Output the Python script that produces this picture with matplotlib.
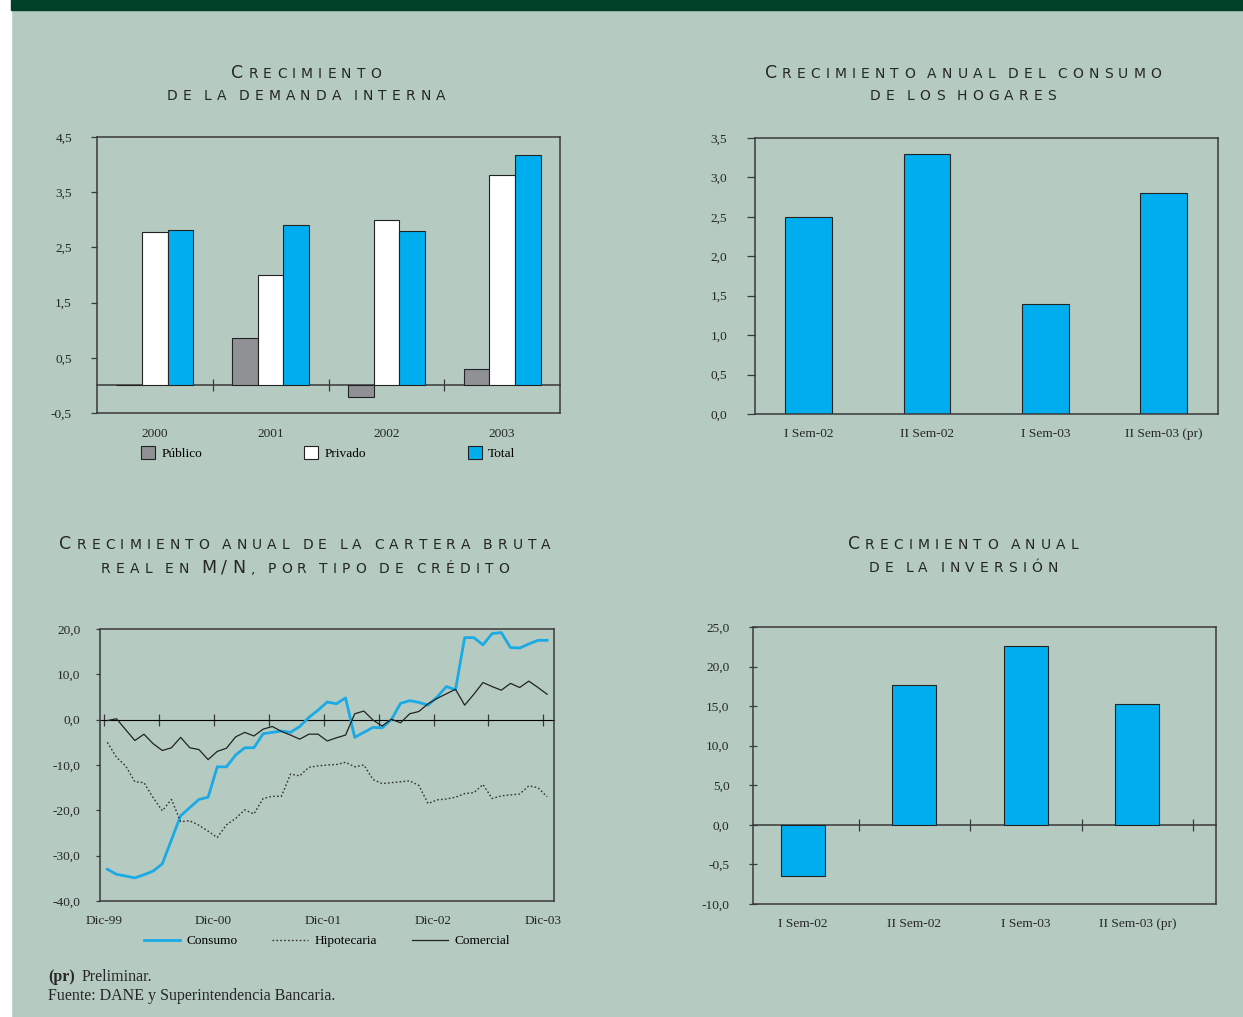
import numpy as np
import matplotlib
matplotlib.use("Agg")
import matplotlib.pyplot as plt
from matplotlib.patches import Rectangle
from matplotlib.offsetbox import TextArea, HPacker, AnchoredOffsetbox

BG = "#b5cbc1"
BAND = "#004028"
BLUE = "#00adee"
GREY = "#8f9195"
INK = "#262626"
SPINE = "#3a3a3a"
FS = 9.6

plt.rcParams["font.family"] = ["Liberation Serif", "DejaVu Serif"]
plt.rcParams["font.size"] = FS

# ── Data ───────────────────────────────────────────────────────────────────
demanda_years = ["2000", "2001", "2002", "2003"]
demanda_publico = [0.0, 0.85, -0.21, 0.30]
demanda_privado = [2.77, 2.00, 3.00, 3.82]
demanda_total = [2.82, 2.90, 2.80, 4.18]
demanda_yticks = [-0.5, 0.5, 1.5, 2.5, 3.5, 4.5]
demanda_ylabels = ["-0,5", "0,5", "1,5", "2,5", "3,5", "4,5"]

sem_labels = ["I Sem-02", "II Sem-02", "I Sem-03", "II Sem-03 (pr)"]
hogares = [2.5, 3.3, 1.4, 2.8]
hogares_yticks = [0.0, 0.5, 1.0, 1.5, 2.0, 2.5, 3.0, 3.5]
hogares_ylabels = ["0,0", "0,5", "1,0", "1,5", "2,0", "2,5", "3,0", "3,5"]

inversion = [-6.5, 17.7, 22.6, 15.25]
inversion_yticks = [-10, -5, 0, 5, 10, 15, 20, 25]
inversion_ylabels = ["-10,0", "-0,5", "0,0", "5,0", "10,0", "15,0", "20,0", "25,0"]

# monthly, Dic-99 .. Dic-03
consumo = [-33.0, -34.1, -34.5, -34.9, -34.2, -33.4, -31.8, -26.5, -21.2, -19.4,
           -17.6, -17.1, -10.4, -10.4, -7.8, -6.2, -6.2, -3.1, -2.8, -2.5,
           -2.8, -1.5, 0.5, 2.1, 3.9, 3.5, 4.8, -3.9, -2.8, -1.7,
           -1.8, 0.0, 3.6, 4.2, 3.8, 3.2, 5.0, 7.3, 6.6, 18.1,
           18.1, 16.5, 19.0, 19.2, 15.9, 15.8, 16.7, 17.5, 17.5]
hipotecaria = [-5.0, -8.3, -10.2, -13.7, -13.9, -17.2, -20.1, -17.6, -22.5, -22.3,
               -23.3, -24.6, -26.0, -23.2, -21.8, -19.9, -20.8, -17.4, -16.9, -16.9,
               -12.0, -12.4, -10.5, -10.2, -10.0, -9.9, -9.4, -10.4, -10.0, -13.2,
               -14.1, -13.9, -13.7, -13.5, -14.5, -18.5, -17.7, -17.5, -17.1, -16.3,
               -16.1, -14.3, -17.4, -16.8, -16.6, -16.4, -14.6, -15.0, -17.0]
comercial = [-0.2, 0.2, -2.2, -4.6, -3.2, -5.3, -6.8, -6.2, -3.9, -6.2,
             -6.6, -8.8, -7.0, -6.3, -3.8, -2.8, -3.6, -2.1, -1.5, -2.6,
             -3.4, -4.3, -3.2, -3.2, -4.7, -4.0, -3.4, 1.3, 1.9, -0.1,
             -1.4, 0.1, -0.7, 1.3, 1.8, 3.5, 4.7, 5.7, 6.7, 3.2,
             5.6, 8.2, 7.3, 6.5, 8.0, 7.1, 8.5, 7.1, 5.6]
cartera_ticklabels = ["Dic-99", "Dic-00", "Dic-01", "Dic-02", "Dic-03"]
cartera_yticks = [-40, -30, -20, -10, 0, 10, 20]
cartera_ylabels = ["-40,0", "-30,0", "-20,0", "-10,0", "0,0", "10,0", "20,0"]


# ── Helpers ────────────────────────────────────────────────────────────────

def px_axes(fig, left, top, right, bottom):
    W, H = 1243, 1017
    return fig.add_axes([left / W, 1 - bottom / H, (right - left) / W, (bottom - top) / H])


def style_axes(ax, ylabels_pad=13, tick_dir="out", tick_len=4):
    ax.set_facecolor("none")
    for s in ax.spines.values():
        s.set_color(SPINE)
        s.set_linewidth(1.1)
    ax.tick_params(axis="y", direction=tick_dir, length=tick_len, width=0.9,
                   color=SPINE, pad=ylabels_pad, labelsize=FS, labelcolor=INK)
    ax.tick_params(axis="x", length=0, labelsize=FS, labelcolor=INK)


def zero_axis(ax, ticks, frac):
    """Excel-style category axis through zero, with ticks crossing it."""
    sec = ax.secondary_xaxis(frac)
    sec.spines["bottom"].set_color(SPINE)
    sec.spines["bottom"].set_linewidth(1.1)
    sec.set_xticks(ticks, [""] * len(ticks))
    sec.tick_params(direction="inout", length=8, width=0.9, color=SPINE,
                    labelbottom=False, labeltop=False)
    return sec


def smallcaps(fig, x, y, text, big=12.5, small=10.0, sep=3.7, wsep=9.0):
    words = []
    for word in text.split(" "):
        if not word:
            continue
        caps_word = word.isupper()
        letters = []
        for ch in word:
            size = big if (ch.isupper() or (caps_word and ch == "/")) else small
            letters.append(TextArea(ch.upper(), textprops=dict(
                fontsize=size, color=INK, family="DejaVu Sans")))
        words.append(HPacker(children=letters, align="baseline", pad=0, sep=sep))
    row = HPacker(children=words, align="baseline", pad=0, sep=wsep)
    box = AnchoredOffsetbox(loc="center", child=row, pad=0, borderpad=0,
                            frameon=False, bbox_to_anchor=(x / 1243, 1 - y / 1017),
                            bbox_transform=fig.transFigure)
    fig.add_artist(box)


# ── Figure ─────────────────────────────────────────────────────────────────
fig = plt.figure(figsize=(12.43, 10.17), dpi=100, facecolor=BG)
fig.add_artist(Rectangle((0, 0), 11 / 1243, 1, transform=fig.transFigure,
                         color="white", zorder=-5))
fig.add_artist(Rectangle((11 / 1243, 1 - 10 / 1017), 1, 10 / 1017,
                         transform=fig.transFigure, color=BAND, zorder=-5))

# titles
smallcaps(fig, 306, 73, "Crecimiento")
smallcaps(fig, 306, 96, "de la demanda interna")
smallcaps(fig, 963, 73, "Crecimiento anual del consumo")
smallcaps(fig, 963, 96, "de los hogares")
smallcaps(fig, 305, 544, "Crecimiento anual de la cartera bruta")
smallcaps(fig, 305, 568, "real en M/N,  por tipo de crédito")
smallcaps(fig, 963, 544, "Crecimiento anual")
smallcaps(fig, 963, 568, "de la inversión")

# 1. Demanda interna
ax1 = px_axes(fig, 97, 137, 560, 413)
style_axes(ax1, ylabels_pad=14)
x = np.arange(len(demanda_years))
w = 0.222
ax1.bar(x - w, demanda_publico, w, color=GREY, edgecolor="#222", linewidth=0.8, label="Público")
ax1.bar(x, demanda_privado, w, color="white", edgecolor="#222", linewidth=0.8, label="Privado")
ax1.bar(x + w, demanda_total, w, color=BLUE, edgecolor="#222", linewidth=0.8, label="Total")
ax1.set_xlim(-0.5, 3.5)
ax1.set_ylim(-0.5, 4.5)
ax1.set_yticks(demanda_yticks, demanda_ylabels)
ax1.set_xticks(x, demanda_years)
ax1.tick_params(axis="x", pad=10.5)
zero_axis(ax1, x[:-1] + 0.5, 0.1)
ax1.legend(loc="center", bbox_to_anchor=(0.5, -0.145), ncol=3, frameon=False,
           handlelength=1.05, handleheight=1.05, handletextpad=0.5,
           columnspacing=7.6, fontsize=FS)

# 2. Consumo de los hogares
ax2 = px_axes(fig, 755, 138, 1218, 414)
style_axes(ax2, ylabels_pad=14, tick_len=6)
x = np.arange(len(sem_labels))
ax2.bar(x, hogares, 0.395, color=BLUE, edgecolor="#222", linewidth=0.8)
ax2.set_xlim(-0.452, 3.457)
ax2.set_ylim(0, 3.5)
ax2.set_yticks(hogares_yticks, hogares_ylabels)
ax2.set_xticks(x, sem_labels)
ax2.tick_params(axis="x", pad=10)

# 3. Cartera bruta
ax3 = px_axes(fig, 100, 629, 554, 901)
style_axes(ax3, ylabels_pad=11, tick_len=3)
t = np.arange(len(consumo))
ax3.plot(t, consumo, color="#1aaae6", lw=2.0, label="Consumo")
ax3.plot(t, hipotecaria, color="#333333", lw=1.0, ls=(0, (1.2, 1.6)), label="Hipotecaria")
ax3.plot(t, comercial, color="#222222", lw=0.9, label="Comercial")
ax3.set_xlim(-0.8, 48.75)
ax3.set_ylim(-40, 20)
ax3.set_yticks(cartera_yticks, cartera_ylabels)
ax3.set_xticks(np.arange(0, 49, 12) - 0.4, cartera_ticklabels)
ax3.tick_params(axis="x", pad=10)
zero_axis(ax3, np.arange(0, 49, 6) - 0.4, 40 / 60)
ax3.legend(loc="center", bbox_to_anchor=(0.5, -0.148), ncol=3, frameon=False,
           handlelength=2.7, handletextpad=0.5, columnspacing=2.6, fontsize=FS)

# 4. Inversión
ax4 = px_axes(fig, 753, 627, 1216, 904)
style_axes(ax4, ylabels_pad=14, tick_dir="inout", tick_len=6)
x = np.arange(len(sem_labels))
ax4.bar(x, inversion, 0.394, color=BLUE, edgecolor="#222", linewidth=0.8)
ax4.set_xlim(-0.447, 3.706)
ax4.set_ylim(-10, 25)
ax4.set_yticks(inversion_yticks, inversion_ylabels)
ax4.set_xticks(x, sem_labels)
ax4.tick_params(axis="x", pad=10)
zero_axis(ax4, x + 0.5, 10 / 35)

# footer
fig.text(48 / 1243, 1 - 977 / 1017, "(pr)", fontsize=11.5, fontweight="bold",
         color=INK, va="center")
fig.text(82 / 1243, 1 - 977 / 1017, "Preliminar.", fontsize=11.5, color=INK, va="center")
fig.text(48 / 1243, 1 - 996 / 1017, "Fuente: DANE y Superintendencia Bancaria.",
         fontsize=11.5, color=INK, va="center")

fig.savefig("out.png", dpi=100, facecolor=BG)
